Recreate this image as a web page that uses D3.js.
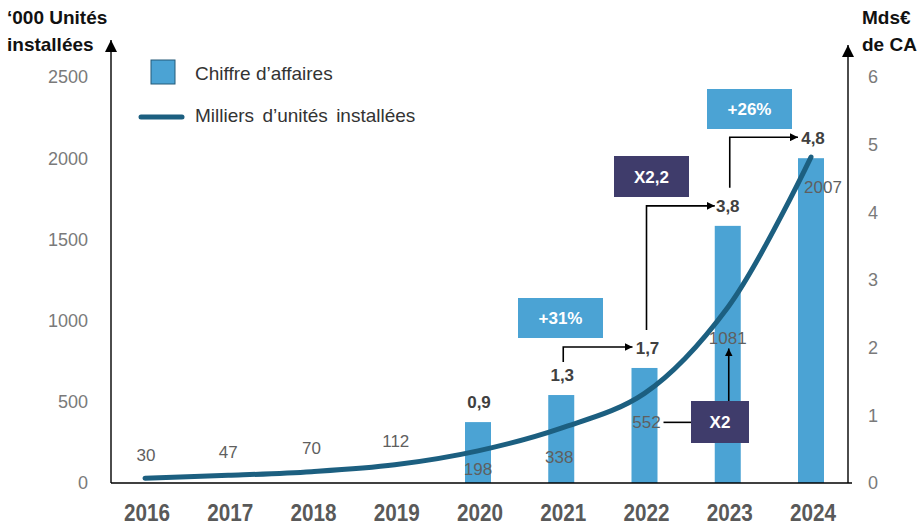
<!DOCTYPE html>
<html>
<head>
<meta charset="utf-8">
<script src="https://cdn.jsdelivr.net/npm/d3@7"></script>
<style>
  html, body { margin: 0; padding: 0; background: #fff; }
  svg { display: block; font-family: Arial, "Liberation Sans", sans-serif; }
</style>
</head>
<body>
<svg id="chart" width="918" height="525"></svg>
<script>
// Years on the horizontal axis
const years = ["2016", "2017", "2018", "2019", "2020", "2021", "2022", "2023", "2024"];
// Installed units, thousands (left axis, line)
const units = [30, 47, 70, 112, 198, 338, 552, 1081, 2007];
// Turnover, billions of euros (right axis, bars) — only from 2020
const revenueYears = ["2020", "2021", "2022", "2023", "2024"];
const revenue = [0.9, 1.3, 1.7, 3.8, 4.8];
// Axis ticks
const leftTicks = [0, 500, 1000, 1500, 2000, 2500];
const rightTicks = [0, 1, 2, 3, 4, 5, 6];
// Growth callouts
const growthLabels = ["+31%", "X2,2", "+26%", "X2"];

const fmt = v => String(v).replace(".", ",");

const svg = d3.select("#chart");
const BLUE = "#4ba3d4", LINE = "#1c5f80", DARK = "#3f3c6b", GREY = "#7a7a7a", TXT = "#404040";

const x = d3.scalePoint().domain(years).range([145, 811]);
const yL = d3.scaleLinear().domain([0, 2500]).range([483, 77]);
const yR = d3.scaleLinear().domain([0, 6]).range([483, 77]);

// Arrow markers
const defs = svg.append("defs");
defs.append("marker").attr("id", "arr").attr("viewBox", "0 0 10 10")
  .attr("refX", 10).attr("refY", 5).attr("markerWidth", 8).attr("markerHeight", 8)
  .attr("markerUnits", "userSpaceOnUse").attr("orient", "auto")
  .append("path").attr("d", "M0,0L10,5L0,10Z").attr("fill", "#000");
defs.append("marker").attr("id", "arrBig").attr("viewBox", "0 0 10 10")
  .attr("refX", 10).attr("refY", 5).attr("markerWidth", 12).attr("markerHeight", 12)
  .attr("markerUnits", "userSpaceOnUse").attr("orient", "auto")
  .append("path").attr("d", "M0,0L10,5L0,10Z").attr("fill", "#000");

// Bars (right axis)
svg.append("g").selectAll("rect").data(revenueYears).join("rect")
  .attr("x", d => x(d) - 13).attr("width", 26)
  .attr("y", (d, i) => yR(revenue[i]))
  .attr("height", (d, i) => yR(0) - yR(revenue[i]))
  .attr("fill", BLUE);

// Axes
const axisG = svg.append("g").attr("stroke", "#000").attr("stroke-width", 1.4);
axisG.append("line").attr("x1", 111).attr("x2", 852).attr("y1", yL(0)).attr("y2", yL(0));
axisG.append("line").attr("x1", 111).attr("x2", 111).attr("y1", yL(0)).attr("y2", 40).attr("marker-end", "url(#arrBig)");
axisG.append("line").attr("x1", 848).attr("x2", 848).attr("y1", yL(0)).attr("y2", 45).attr("marker-end", "url(#arrBig)");

// Left tick labels
svg.append("g").selectAll("text").data(leftTicks).join("text")
  .attr("x", 88).attr("y", d => yL(d)).attr("dy", "0.36em")
  .attr("text-anchor", "end").attr("font-size", 18).attr("fill", GREY)
  .text(d => d);
// Right tick labels
svg.append("g").selectAll("text").data(rightTicks).join("text")
  .attr("x", 873).attr("y", d => yR(d)).attr("dy", "0.36em")
  .attr("text-anchor", "middle").attr("font-size", 18).attr("fill", GREY)
  .text(d => d);
// Year labels (condensed bold)
svg.append("g").selectAll("text").data(years).join("text")
  .attr("transform", d => `translate(${x(d) + 2},512) scale(0.9,1.05)`)
  .attr("dy", "0.36em")
  .attr("text-anchor", "middle").attr("font-size", 23).attr("font-weight", "bold")
  .attr("fill", "#595959")
  .text(d => d);

// Axis titles
const tl = svg.append("text").attr("font-size", 19).attr("font-weight", "bold").attr("fill", "#111");
tl.append("tspan").attr("x", 7).attr("y", 24).text("‘000 Unités");
tl.append("tspan").attr("x", 7).attr("y", 51).text("installées");
const tr = svg.append("text").attr("font-size", 19).attr("font-weight", "bold").attr("fill", "#111");
tr.append("tspan").attr("x", 862).attr("y", 24).text("Mds€");
tr.append("tspan").attr("x", 862).attr("y", 51).text("de CA");

// Units line
const line = d3.line().x((d, i) => x(years[i])).y(d => yL(d)).curve(d3.curveCatmullRom.alpha(0.5));
svg.append("path").datum(units).attr("d", line)
  .attr("fill", "none").attr("stroke", LINE).attr("stroke-width", 5).attr("stroke-linecap", "round");

// Unit value labels: above the line for the early years, below afterwards
const unitOffsets = [-23, -23, -24, -24, 18, 29, 29, 30, 30];
const unitDx = [1, 0, 0, 1, 0, -2, 2, 0, 12];
svg.append("g").selectAll("text").data(units).join("text")
  .attr("x", (d, i) => x(years[i]) + unitDx[i])
  .attr("y", (d, i) => yL(d) + unitOffsets[i]).attr("dy", "0.36em")
  .attr("text-anchor", "middle").attr("font-size", 17).attr("fill", "#5f5f5f")
  .text(d => d);

// Revenue value labels above the bars
const revDx = [1, 1, 3, 0, 2];
svg.append("g").selectAll("text").data(revenue).join("text")
  .attr("x", (d, i) => x(revenueYears[i]) + revDx[i])
  .attr("y", d => yR(d) - 20).attr("dy", "0.36em")
  .attr("text-anchor", "middle").attr("font-size", 17).attr("font-weight", "bold").attr("fill", TXT)
  .text(d => fmt(d));

// Growth arrows between bar labels
const arrows = svg.append("g").attr("fill", "none").attr("stroke", "#000").attr("stroke-width", 1.6);
const step = (xa, ya, yb, xb) => `M${xa},${ya}V${yb}H${xb}`;
arrows.append("path").attr("d", step(x("2021") + 2, yR(1.3) - 33, yR(1.7) - 21, x("2022") - 12)).attr("marker-end", "url(#arr)");
arrows.append("path").attr("d", step(x("2022") + 2, yR(1.7) - 38, yR(3.8) - 20, x("2023") - 13)).attr("marker-end", "url(#arr)");
arrows.append("path").attr("d", step(x("2023") + 2, yR(3.8) - 38, yR(4.8) - 21, x("2024") - 13)).attr("marker-end", "url(#arr)");
// X2 callout: from 552 to 1081
arrows.append("path").attr("d", `M${x("2022") + 19},${yL(552) + 29}H691`);
arrows.append("path").attr("d", `M${x("2023") + 1},401V${yL(1081) + 41}`).attr("marker-end", "url(#arr)");

// Callout boxes
const boxes = [
  { x: 518, y: 298, w: 85, h: 40, fill: BLUE },
  { x: 614, y: 156, w: 75, h: 41, fill: DARK },
  { x: 707, y: 89, w: 85, h: 40, fill: BLUE },
  { x: 691, y: 401, w: 58, h: 42, fill: DARK }
];
const bg = svg.append("g").selectAll("g").data(boxes).join("g");
bg.append("rect").attr("x", d => d.x).attr("y", d => d.y).attr("width", d => d.w).attr("height", d => d.h)
  .attr("fill", d => d.fill);
bg.append("text").attr("x", d => d.x + d.w / 2).attr("y", d => d.y + d.h / 2).attr("dy", "0.36em")
  .attr("text-anchor", "middle").attr("font-size", 17).attr("font-weight", "bold").attr("fill", "#fff")
  .text((d, i) => growthLabels[i]);

// Legend
const lg = svg.append("g");
lg.append("rect").attr("x", 151).attr("y", 60).attr("width", 24).attr("height", 24)
  .attr("fill", BLUE).attr("stroke", "#245a78").attr("stroke-width", 1);
lg.append("text").attr("x", 195).attr("y", 73).attr("dy", "0.36em").attr("font-size", 19).attr("fill", "#333")
  .text("Chiffre d’affaires");
lg.append("line").attr("x1", 141).attr("x2", 182).attr("y1", 117).attr("y2", 117)
  .attr("stroke", LINE).attr("stroke-width", 5).attr("stroke-linecap", "round");
lg.append("text").attr("x", 195).attr("y", 115).attr("dy", "0.36em").attr("font-size", 19).attr("fill", "#333")
  .attr("word-spacing", 3)
  .text("Milliers d’unités installées");
</script>
</body>
</html>
